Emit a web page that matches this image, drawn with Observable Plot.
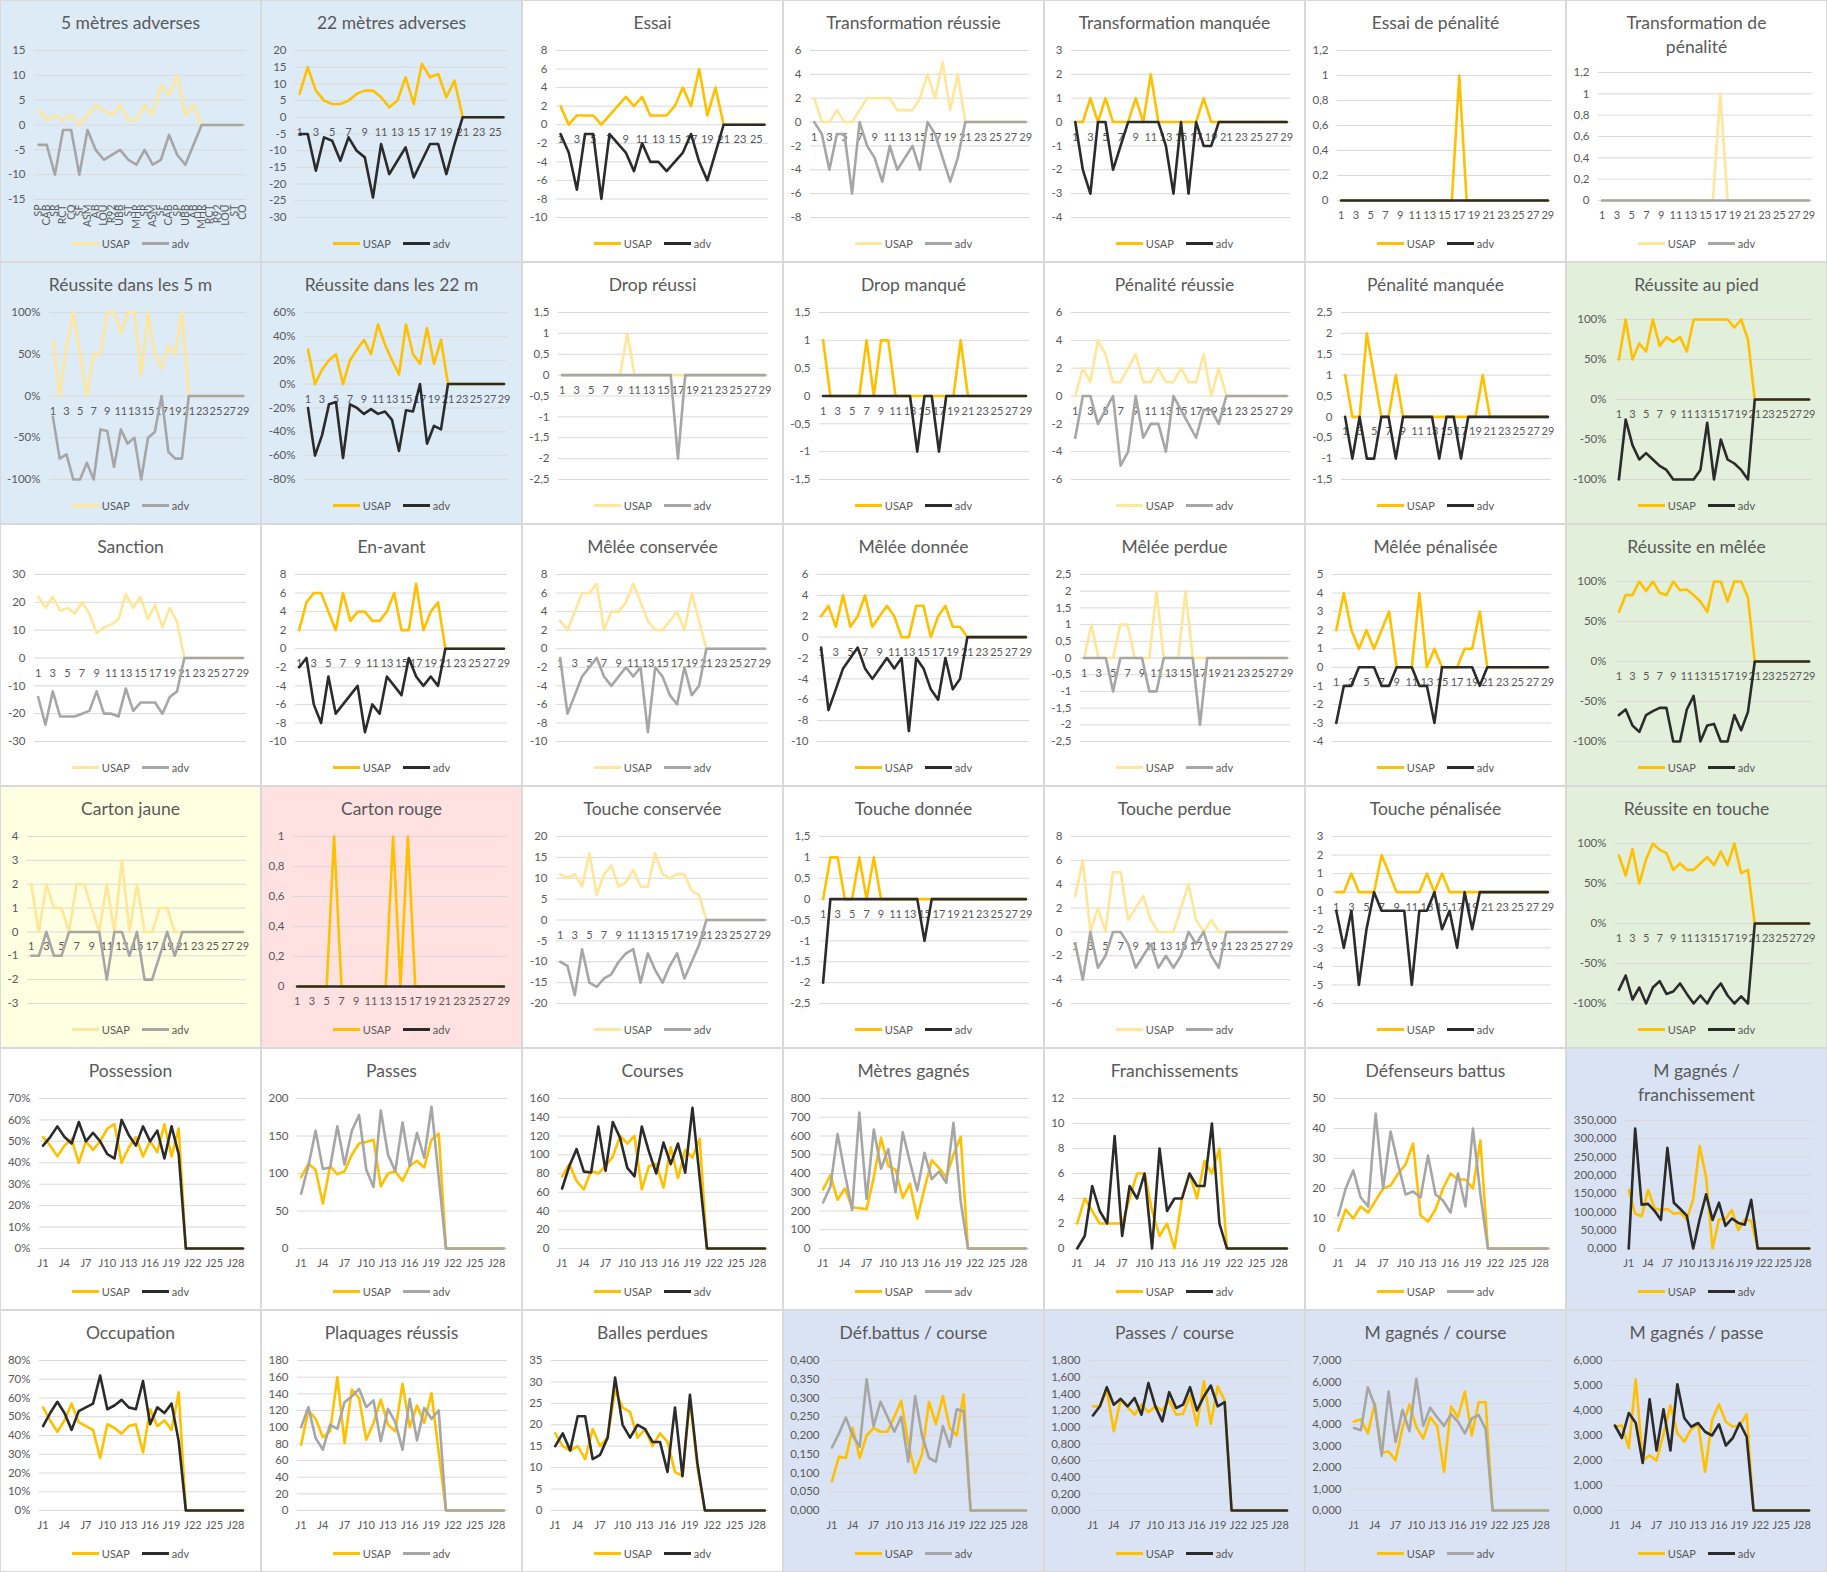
<!DOCTYPE html>
<html><head><meta charset="utf-8">
<script src="https://cdn.jsdelivr.net/npm/d3@7"></script>
<script src="https://cdn.jsdelivr.net/npm/@observablehq/plot@0.6"></script>
<style>
body{margin:0;background:#fff;font-family:Lato,"Open Sans",sans-serif;}
#grid{display:grid;grid-template-columns:repeat(7,261px);grid-template-rows:repeat(6,262px);width:1827px;height:1572px;}
.cell{position:relative;width:261px;height:262px;box-shadow:inset 0 0 0 1px #d9d9d9;overflow:hidden;background:#fff}
.cell svg{position:absolute;left:0;top:0}
.title{position:absolute;left:0;right:0;top:11px;text-align:center;font-size:17.5px;line-height:23.5px;color:#595959;white-space:pre-line}
.legend{position:absolute;left:0;right:0;top:235px;height:16px;display:flex;justify-content:center;align-items:center;font-size:11px;color:#595959}
.sw{display:inline-block;width:27px;height:3px;margin-right:3px}
.lt{margin-right:12px}
</style></head>
<body><div id="grid"></div>
<script>
// ---- categories ----
const numeros = [1,2,3,4,5,6,7,8,9,10,11,12,13,14,15,16,17,18,19,20,21,22,23,24,25,26,27,28,29];
const jours = ["J1","J2","J3","J4","J5","J6","J7","J8","J9","J10","J11","J12","J13","J14","J15","J16","J17","J18","J19","J20","J21","J22","J23","J24","J25","J26","J27","J28","J29"];
const equipes = ["SP","CAB","SR","RCT","CO","SF","ASM","AB","LOU","R92","UBB","ST","MHR","SR","ASM","SF","CAB","SP","UBB","AB","MHR","RCT","R92","LOU","ST","CO"];

// ---- series ----
const m5_usap = [3,1,2,1,2,0,2,4,3,2,4,1,1,4,2,8,6,10,2,4,0,0,0,0,0,0];
const m5_adv = [-4,-4,-10,-1,-1,-10,-1,-5,-7,-6,-5,-7,-8,-5,-8,-7,-2,-6,-8,-4,0,0,0,0,0,0];
const m22_usap = [7,15,8,5,4,4,5,7,8,8,6,3,5,12,4,16,12,13,6,11,0,0,0,0,0,0];
const m22_adv = [-5,-5,-16,-6,-7,-13,-6,-10,-12,-24,-8,-17,-13,-9,-18,-13,-8,-8,-17,-8,0,0,0,0,0,0];
const essai_usap = [2,0,1,1,1,0,1,2,3,2,3,1,1,1,2,4,2,6,1,4,0,0,0,0,0,0];
const essai_adv = [-1,-3,-7,-1,-1,-8,-1,-2,-3,-5,-2,-4,-4,-5,-4,-3,-1,-4,-6,-3,0,0,0,0,0,0];
const tr_usap = [2,0,0,1,0,0,1,2,2,2,2,1,1,1,2,4,2,5,1,4,0,0,0,0,0,0,0,0,0];
const tr_adv = [0,-1,-4,-1,-1,-6,0,-2,-3,-5,-2,-4,-3,-2,-4,0,-1,-3,-5,-3,0,0,0,0,0,0,0,0,0];
const tm_usap = [0,0,1,0,1,0,0,0,1,0,2,0,0,0,0,0,0,1,0,0,0,0,0,0,0,0,0,0,0];
const tm_adv = [0,-2,-3,0,0,-2,-1,0,0,0,0,0,-1,-3,0,-3,0,-1,-1,0,0,0,0,0,0,0,0,0,0];
const ep_usap = [0,0,0,0,0,0,0,0,0,0,0,0,0,0,0,0,1,0,0,0,0,0,0,0,0,0,0,0,0];
const ep_adv = [0,0,0,0,0,0,0,0,0,0,0,0,0,0,0,0,0,0,0,0,0,0,0,0,0,0,0,0,0];
const tp_usap = [0,0,0,0,0,0,0,0,0,0,0,0,0,0,0,0,1,0,0,0,0,0,0,0,0,0,0,0,0];
const tp_adv = [0,0,0,0,0,0,0,0,0,0,0,0,0,0,0,0,0,0,0,0,0,0,0,0,0,0,0,0,0];
const r5_usap = [67,0,60,100,50,0,50,50,100,100,75,100,100,25,100,50,33,60,50,100,0,0,0,0,0,0,0,0,0];
const r5_adv = [-25,-75,-70,-100,-100,-80,-100,-40,-42,-85,-40,-57,-50,-100,-50,-43,0,-67,-75,-75,0,0,0,0,0,0,0,0,0];
const r22_usap = [29,0,12,20,25,0,20,29,37,25,50,33,20,8,50,25,17,47,17,37,0,0,0,0,0,0,0,0,0];
const r22_adv = [-20,-60,-43,-17,-15,-62,-17,-20,-25,-21,-25,-23,-30,-56,-22,-23,0,-50,-35,-38,0,0,0,0,0,0,0,0,0];
const dr_usap = [0,0,0,0,0,0,0,0,0,1,0,0,0,0,0,0,0,0,0,0,0,0,0,0,0,0,0,0,0];
const dr_adv = [0,0,0,0,0,0,0,0,0,0,0,0,0,0,0,0,-2,0,0,0,0,0,0,0,0,0,0,0,0];
const dm_usap = [1,0,0,0,0,0,1,0,1,1,0,0,0,0,0,0,0,0,0,1,0,0,0,0,0,0,0,0,0];
const dm_adv = [0,0,0,0,0,0,0,0,0,0,0,0,0,-1,0,0,-1,0,0,0,0,0,0,0,0,0,0,0,0];
const pr_usap = [0,2,1,4,3,1,1,2,3,1,1,2,1,1,2,1,1,3,0,2,0,0,0,0,0,0,0,0,0];
const pr_adv = [-3,0,0,-2,-1,0,-5,-4,0,-3,-2,-2,-4,0,-1,-2,-3,-1,-1,-2,0,0,0,0,0,0,0,0,0];
const pm_usap = [1,0,0,2,1,0,0,1,0,0,0,0,0,0,0,0,0,0,0,1,0,0,0,0,0,0,0,0,0];
const pm_adv = [0,-1,0,-1,-1,0,0,-1,0,0,0,0,0,-1,0,0,-1,0,0,0,0,0,0,0,0,0,0,0,0];
const rp_usap = [50,100,50,70,60,100,67,78,72,78,60,100,100,100,100,100,100,90,100,75,0,0,0,0,0,0,0,0,0];
const rp_adv = [-100,-25,-57,-75,-67,-75,-83,-88,-100,-100,-100,-100,-88,-29,-100,-50,-75,-80,-88,-100,0,0,0,0,0,0,0,0,0];
const sa_usap = [22,18,22,17,18,16,20,16,9,11,12,14,23,18,22,14,19,11,18,13,0,0,0,0,0,0,0,0,0];
const sa_adv = [-14,-24,-12,-21,-21,-21,-20,-19,-12,-20,-20,-21,-11,-19,-16,-16,-16,-20,-14,-12,0,0,0,0,0,0,0,0,0];
const ea_usap = [2,5,6,6,4,2,6,3,4,4,3,3,4,6,2,2,7,2,4,5,0,0,0,0,0,0,0,0,0];
const ea_adv = [-2,-1,-6,-8,-3,-7,-6,-5,-4,-9,-6,-7,-3,-4,-5,-1,-3,-4,-3,-4,0,0,0,0,0,0,0,0,0];
const mc_usap = [3,2,4,6,6,7,2,4,4,5,7,5,3,2,2,3,4,2,6,3,0,0,0,0,0,0,0,0,0];
const mc_adv = [-1,-7,-5,-3,-2,-1,-3,-4,-3,-2,-3,-2,-9,-2,-3,-5,-6,-2,-5,-4,0,0,0,0,0,0,0,0,0];
const md_usap = [2,3,1,4,1,2,4,1,2,3,2,0,0,3,3,0,2,3,1,1,0,0,0,0,0,0,0,0,0];
const md_adv = [-1,-7,-5,-3,-2,-1,-3,-4,-3,-2,-3,-2,-9,-2,-3,-5,-6,-2,-5,-4,0,0,0,0,0,0,0,0,0];
const mp_usap = [0,1,0,0,0,1,1,0,0,0,2,0,0,0,2,0,0,0,0,0,0,0,0,0,0,0,0,0,0];
const mp_adv = [0,0,0,0,-1,0,0,0,0,-1,-1,0,0,0,0,0,-2,0,0,0,0,0,0,0,0,0,0,0,0];
const mpe_usap = [2,4,2,1,2,1,2,3,0,0,0,4,0,1,0,0,0,1,1,3,0,0,0,0,0,0,0,0,0];
const mpe_adv = [-3,-1,-1,0,0,0,-1,-1,0,0,0,-1,-1,-3,0,0,0,0,0,-1,0,0,0,0,0,0,0,0,0];
const rm_usap = [62,83,83,100,88,100,86,83,100,89,90,83,75,62,100,100,75,100,100,80,0,0,0,0,0,0,0,0,0];
const rm_adv = [-67,-60,-80,-88,-67,-62,-58,-58,-100,-100,-60,-43,-100,-80,-78,-100,-100,-67,-86,-63,0,0,0,0,0,0,0,0,0];
const cj_usap = [2,0,2,1,1,0,2,2,1,0,2,0,3,0,2,0,0,1,1,0,0,0,0,0,0,0,0,0,0];
const cj_adv = [-1,-1,0,-1,-1,0,0,0,0,0,-2,0,0,-1,0,-2,-2,-1,0,-1,0,0,0,0,0,0,0,0,0];
const cr_usap = [0,0,0,0,0,1,0,0,0,0,0,0,0,1,0,1,0,0,0,0,0,0,0,0,0,0,0,0,0];
const cr_adv = [0,0,0,0,0,0,0,0,0,0,0,0,0,0,0,0,0,0,0,0,0,0,0,0,0,0,0,0,0];
const tc_usap = [11,10,11,8,16,6,11,13,8,9,12,8,8,16,11,10,11,11,7,6,0,0,0,0,0,0,0,0,0];
const tc_adv = [-10,-11,-18,-7,-15,-16,-14,-13,-10,-8,-7,-15,-8,-12,-15,-11,-8,-14,-10,-6,0,0,0,0,0,0,0,0,0];
const td_usap = [0,1,1,0,0,1,0,1,0,0,0,0,0,0,0,0,0,0,0,0,0,0,0,0,0,0,0,0,0];
const td_adv = [-2,0,0,0,0,0,0,0,0,0,0,0,0,0,-1,0,0,0,0,0,0,0,0,0,0,0,0,0,0];
const tpe_usap = [3,6,0,2,0,5,5,1,2,3,1,0,0,0,2,4,1,0,1,0,0,0,0,0,0,0,0,0,0];
const tpe_adv = [-1,-4,0,-3,-2,0,0,-1,-3,-2,-1,-3,-2,-3,-2,0,-1,0,-2,-3,0,0,0,0,0,0,0,0,0];
const tpn_usap = [0,0,1,0,0,0,2,1,0,0,0,0,1,0,1,0,0,0,0,0,0,0,0,0,0,0,0,0,0];
const tpn_adv = [-1,-3,-1,-5,-2,0,-1,-1,-1,-1,-5,-1,-1,0,-2,-1,-3,0,-2,0,0,0,0,0,0,0,0,0,0];
const rt_usap = [85,60,93,50,80,100,92,88,67,75,67,67,75,83,73,90,73,100,63,67,0,0,0,0,0,0,0,0,0];
const rt_adv = [-83,-65,-95,-80,-100,-80,-72,-88,-85,-75,-88,-100,-90,-100,-85,-75,-90,-100,-91,-100,0,0,0,0,0,0,0,0,0];
const po_usap = [52,48,43,48,51,40,50,46,50,56,58,40,47,52,43,50,45,58,43,56,0,0,0,0,0,0,0,0,0];
const po_adv = [48,52,57,52,49,59,50,54,50,44,42,60,53,48,57,50,55,42,57,44,0,0,0,0,0,0,0,0,0];
const pa_usap = [95,113,105,60,110,99,103,125,140,142,145,83,100,103,90,110,117,108,145,153,0,0,0,0,0,0,0,0,0];
const pa_adv = [73,110,157,106,108,163,112,157,178,105,82,184,125,103,168,110,154,121,189,95,0,0,0,0,0,0,0,0,0];
const co_usap = [77,90,72,63,83,80,88,98,120,112,120,63,88,90,65,108,75,105,97,117,0,0,0,0,0,0,0,0,0];
const co_adv = [64,88,106,82,81,130,83,135,118,86,77,130,103,80,113,90,112,81,150,75,0,0,0,0,0,0,0,0,0];
const mg_usap = [315,390,260,320,220,215,210,380,590,440,420,270,345,160,320,470,430,380,500,595,0,0,0,0,0,0,0,0,0];
const mg_adv = [245,330,610,400,205,725,265,635,425,530,300,620,460,310,510,370,410,350,670,250,0,0,0,0,0,0,0,0,0];
const fr_usap = [2,4,3,2,2,2,2,4,6,6,3,1,2,0,4,6,4,7,6,8,0,0,0,0,0,0,0,0,0];
const fr_adv = [0,1,5,3,2,9,1,5,4,6,0,8,3,4,4,6,5,5,10,2,0,0,0,0,0,0,0,0,0];
const db_usap = [6,13,10,14,12,16,20,21,25,28,35,11,9,13,20,25,23,23,20,36,0,0,0,0,0,0,0,0,0];
const db_adv = [11,20,26,17,14,45,20,39,28,18,19,17,31,18,16,12,25,14,40,18,0,0,0,0,0,0,0,0,0];
const mf_usap = [160,95,88,160,110,105,108,95,98,80,135,280,195,0,80,80,105,50,80,75,0,0,0,0,0,0,0,0,0];
const mf_adv = [0,328,120,122,103,78,275,125,108,90,0,80,148,78,125,62,82,70,65,133,0,0,0,0,0,0,0,0,0];
const oc_usap = [55,48,42,48,57,47,45,43,28,46,44,41,45,46,31,54,45,48,43,63,0,0,0,0,0,0,0,0,0];
const oc_adv = [45,52,58,52,43,53,55,57,72,54,56,59,55,54,69,46,55,52,57,37,0,0,0,0,0,0,0,0,0];
const pl_usap = [79,120,110,88,95,160,81,145,135,85,105,133,103,95,152,100,126,105,141,70,0,0,0,0,0,0,0,0,0];
const pl_adv = [100,124,87,73,103,98,130,137,146,124,132,83,122,106,73,134,84,123,110,120,0,0,0,0,0,0,0,0,0];
const bp_usap = [18,15,14,15,12,19,15,17,28,24,23,17,19,15,18,16,9,8,26,10,0,0,0,0,0,0,0,0,0];
const bp_adv = [15,18,14,22,22,12,13,17,31,20,17,20,19,16,16,9,24,8,27,11,0,0,0,0,0,0,0,0,0];
const dc_usap = [0.078,0.143,0.140,0.220,0.140,0.200,0.220,0.210,0.210,0.250,0.293,0.180,0.100,0.150,0.290,0.230,0.305,0.220,0.200,0.310,0,0,0,0,0,0,0,0,0];
const dc_adv = [0.168,0.205,0.248,0.200,0.170,0.350,0.225,0.290,0.250,0.210,0.250,0.130,0.305,0.200,0.140,0.130,0.225,0.170,0.270,0.265,0,0,0,0,0,0,0,0,0];
const pc_usap = [1.25,1.25,1.45,0.95,1.33,1.24,1.15,1.27,1.18,1.25,1.20,1.32,1.15,1.16,1.38,1.02,1.55,1.04,1.49,1.32,0,0,0,0,0,0,0,0,0];
const pc_adv = [1.14,1.25,1.48,1.27,1.34,1.25,1.35,1.15,1.53,1.25,1.07,1.42,1.23,1.27,1.48,1.20,1.37,1.50,1.25,1.30,0,0,0,0,0,0,0,0,0];
const mgc_usap = [4.15,4.25,3.6,5.0,2.7,2.75,2.35,3.85,4.95,3.9,3.35,4.35,3.95,1.8,4.85,4.35,5.55,3.5,5.05,5.05,0,0,0,0,0,0,0,0,0];
const mgc_adv = [3.85,3.75,5.75,4.9,2.55,5.55,3.2,4.7,3.7,6.15,3.95,4.8,4.35,3.95,4.5,4.15,3.6,4.3,4.45,3.8,0,0,0,0,0,0,0,0,0];
const mgp_usap = [3.35,3.4,2.5,5.25,2.0,2.2,2.0,3.05,4.2,3.1,2.75,3.25,3.45,1.55,3.6,4.25,3.55,3.35,3.4,3.85,0,0,0,0,0,0,0,0,0];
const mgp_adv = [3.4,2.9,3.9,3.5,1.9,4.45,2.4,4.05,2.4,5.05,3.7,3.35,3.5,3.15,3.0,3.45,2.6,2.9,3.5,2.95,0,0,0,0,0,0,0,0,0];

// ---- chart table (built from the arrays above) ----
const charts = [
  {title:"5 mètres adverses", usap:m5_usap, adv:m5_adv, y:[-15,15,5], f:"int", pal:"light", x:"team", bg:"blue"},
  {title:"22 mètres adverses", usap:m22_usap, adv:m22_adv, y:[-30,20,5], f:"int", pal:"dark", x:"num", bg:"blue"},
  {title:"Essai", usap:essai_usap, adv:essai_adv, y:[-10,8,2], f:"int", pal:"dark", x:"num"},
  {title:"Transformation réussie", usap:tr_usap, adv:tr_adv, y:[-8,6,2], f:"int", pal:"light", x:"num"},
  {title:"Transformation manquée", usap:tm_usap, adv:tm_adv, y:[-4,3,1], f:"int", pal:"dark", x:"num"},
  {title:"Essai de pénalité", usap:ep_usap, adv:ep_adv, y:[0,1.2,0.2], f:"dec", pal:"dark", x:"num"},
  {title:"Transformation de\npénalité", usap:tp_usap, adv:tp_adv, y:[0,1.2,0.2], f:"dec", pal:"light", x:"num"},
  {title:"Réussite dans les 5 m", usap:r5_usap, adv:r5_adv, y:[-100,100,50], f:"pct", pal:"light", x:"num", bg:"blue"},
  {title:"Réussite dans les 22 m", usap:r22_usap, adv:r22_adv, y:[-80,60,20], f:"pct", pal:"dark", x:"num", bg:"blue"},
  {title:"Drop réussi", usap:dr_usap, adv:dr_adv, y:[-2.5,1.5,0.5], f:"dec", pal:"light", x:"num"},
  {title:"Drop manqué", usap:dm_usap, adv:dm_adv, y:[-1.5,1.5,0.5], f:"dec", pal:"dark", x:"num"},
  {title:"Pénalité réussie", usap:pr_usap, adv:pr_adv, y:[-6,6,2], f:"int", pal:"light", x:"num"},
  {title:"Pénalité manquée", usap:pm_usap, adv:pm_adv, y:[-1.5,2.5,0.5], f:"dec", pal:"dark", x:"num"},
  {title:"Réussite au pied", usap:rp_usap, adv:rp_adv, y:[-100,100,50], f:"pct", pal:"dark", x:"num", bg:"green"},
  {title:"Sanction", usap:sa_usap, adv:sa_adv, y:[-30,30,10], f:"int", pal:"light", x:"num"},
  {title:"En-avant", usap:ea_usap, adv:ea_adv, y:[-10,8,2], f:"int", pal:"dark", x:"num"},
  {title:"Mêlée conservée", usap:mc_usap, adv:mc_adv, y:[-10,8,2], f:"int", pal:"light", x:"num"},
  {title:"Mêlée donnée", usap:md_usap, adv:md_adv, y:[-10,6,2], f:"int", pal:"dark", x:"num"},
  {title:"Mêlée perdue", usap:mp_usap, adv:mp_adv, y:[-2.5,2.5,0.5], f:"dec", pal:"light", x:"num"},
  {title:"Mêlée pénalisée", usap:mpe_usap, adv:mpe_adv, y:[-4,5,1], f:"int", pal:"dark", x:"num"},
  {title:"Réussite en mêlée", usap:rm_usap, adv:rm_adv, y:[-100,100,50], f:"pct", pal:"dark", x:"num", bg:"green"},
  {title:"Carton jaune", usap:cj_usap, adv:cj_adv, y:[-3,4,1], f:"int", pal:"light", x:"num", bg:"yellow"},
  {title:"Carton rouge", usap:cr_usap, adv:cr_adv, y:[0,1,0.2], f:"dec", pal:"dark", x:"num", bg:"pink"},
  {title:"Touche conservée", usap:tc_usap, adv:tc_adv, y:[-20,20,5], f:"int", pal:"light", x:"num"},
  {title:"Touche donnée", usap:td_usap, adv:td_adv, y:[-2.5,1.5,0.5], f:"dec", pal:"dark", x:"num"},
  {title:"Touche perdue", usap:tpe_usap, adv:tpe_adv, y:[-6,8,2], f:"int", pal:"light", x:"num"},
  {title:"Touche pénalisée", usap:tpn_usap, adv:tpn_adv, y:[-6,3,1], f:"int", pal:"dark", x:"num"},
  {title:"Réussite en touche", usap:rt_usap, adv:rt_adv, y:[-100,100,50], f:"pct", pal:"dark", x:"num", bg:"green"},
  {title:"Possession", usap:po_usap, adv:po_adv, y:[0,70,10], f:"pct", pal:"dark", x:"J"},
  {title:"Passes", usap:pa_usap, adv:pa_adv, y:[0,200,50], f:"int", pal:"grey", x:"J"},
  {title:"Courses", usap:co_usap, adv:co_adv, y:[0,160,20], f:"int", pal:"dark", x:"J"},
  {title:"Mètres gagnés", usap:mg_usap, adv:mg_adv, y:[0,800,100], f:"int", pal:"grey", x:"J"},
  {title:"Franchissements", usap:fr_usap, adv:fr_adv, y:[0,12,2], f:"int", pal:"dark", x:"J"},
  {title:"Défenseurs battus", usap:db_usap, adv:db_adv, y:[0,50,10], f:"int", pal:"grey", x:"J"},
  {title:"M gagnés /\nfranchissement", usap:mf_usap, adv:mf_adv, y:[0,350,50], f:"fix3", pal:"dark", x:"J", bg:"lav"},
  {title:"Occupation", usap:oc_usap, adv:oc_adv, y:[0,80,10], f:"pct", pal:"dark", x:"J"},
  {title:"Plaquages réussis", usap:pl_usap, adv:pl_adv, y:[0,180,20], f:"int", pal:"grey", x:"J"},
  {title:"Balles perdues", usap:bp_usap, adv:bp_adv, y:[0,35,5], f:"int", pal:"dark", x:"J"},
  {title:"Déf.battus / course", usap:dc_usap, adv:dc_adv, y:[0,0.4,0.05], f:"fix3", pal:"grey", x:"J", bg:"lav"},
  {title:"Passes / course", usap:pc_usap, adv:pc_adv, y:[0,1.8,0.2], f:"fix3", pal:"dark", x:"J", bg:"lav"},
  {title:"M gagnés / course", usap:mgc_usap, adv:mgc_adv, y:[0,7,1], f:"fix3", pal:"grey", x:"J", bg:"lav"},
  {title:"M gagnés / passe", usap:mgp_usap, adv:mgp_adv, y:[0,6,1], f:"fix3", pal:"dark", x:"J", bg:"lav"}
];

const PAL = {dark:["#FFC000","#2B2B2B"], light:["#FFE699","#A6A6A6"], grey:["#FFC000","#A6A6A6"]};
const BG = {blue:"#DDEBF7", green:"#E2EFDA", yellow:"#FFFFE1", pink:"#FFE1E1", lav:"#DAE3F3"};
const FMT = {
  int: d => String(d),
  dec: d => String(+d.toFixed(3)).replace(".", ","),
  pct: d => d + "%",
  fix3: d => d.toFixed(3).replace(".", ",")
};
const ctx = document.createElement("canvas").getContext("2d");
ctx.font = "11.5px Lato";

const grid = document.getElementById("grid");
for (const c of charts) {
  const cell = document.createElement("div");
  cell.className = "cell";
  if (c.bg) cell.style.background = BG[c.bg];
  const N = c.usap.length;
  const cats = (c.x === "J" ? jours : c.x === "team" ? equipes : numeros).slice(0, N);
  const rows = c.usap.map((u, i) => ({i: i + 1, u, a: c.adv[i]}));
  const [y0, y1, st] = c.y;
  const ticks = d3.range(0, Math.round((y1 - y0) / st) + 1).map(k => +(y0 + k * st).toFixed(6));
  const fmt = FMT[c.f];
  const lw = Math.max(...ticks.map(t => ctx.measureText(fmt(t)).width));
  const twoLines = c.title.includes("\n");
  const top = twoLines ? 72 : (c.bg === "green" ? 57 : 50);
  const bottomY = c.x === "team" ? 199 : (y0 < 0 ? 217 : 200);
  const [cu, ca] = PAL[c.pal];
  const xl = cats.map((t, i) => ({i: i + 1, t}))
    .filter((d, i) => c.x === "team" ? true : c.x === "J" ? i % 3 === 0 : i % 2 === 0);
  const xMark = c.x === "team"
    ? Plot.text(xl, {x: "i", y: () => y0, text: "t", rotate: -90, textAnchor: "end", dy: 5, fontSize: 10.5})
    : Plot.text(xl, {x: "i", y: () => 0, text: "t", dy: 15, fontSize: 11});
  const svg = Plot.plot({
    width: 261, height: 262,
    marginTop: top, marginBottom: 262 - bottomY, marginLeft: Math.round(16 + lw), marginRight: 15,
    x: {domain: [0.5, N + 0.5], axis: null},
    y: {domain: [y0, y1]},
    style: {background: "transparent", fontFamily: "Lato", fontSize: "11.5px", color: "#595959", overflow: "visible"},
    marks: [
      Plot.ruleY(ticks, {stroke: "#D9D9D9", strokeWidth: 1}),
      Plot.axisY({ticks, tickFormat: fmt, tickSize: 0, tickPadding: 9, label: null, fontSize: 11.5}),
      xMark,
      Plot.line(rows, {x: "i", y: "u", stroke: cu, strokeWidth: 2.6, strokeLinejoin: "round"}),
      Plot.line(rows, {x: "i", y: "a", stroke: ca, strokeWidth: 2.6, strokeLinejoin: "round"})
    ]
  });
  cell.appendChild(svg);
  const t = document.createElement("div");
  t.className = "title";
  t.textContent = c.title;
  cell.appendChild(t);
  const lg = document.createElement("div");
  lg.className = "legend";
  lg.innerHTML = `<span class="sw" style="background:${cu}"></span><span class="lt">USAP</span><span class="sw" style="background:${ca}"></span><span>adv</span>`;
  cell.appendChild(lg);
  grid.appendChild(cell);
}
</script>
</body></html>
